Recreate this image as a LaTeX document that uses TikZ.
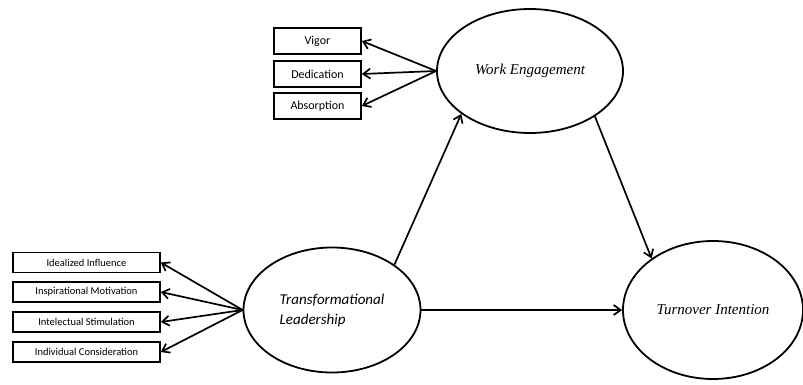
\documentclass[tikz,border=0pt]{standalone}
\usepackage{fontspec}
\setmainfont{Liberation Serif}
\newfontfamily\calfont{Carlito}
\usetikzlibrary{shapes.geometric,arrows.meta}

\begin{document}
\begin{tikzpicture}[x=1pt,y=-1pt,
  construct/.style={draw,ellipse,line width=1.8pt,inner sep=0pt},
  dimbox/.style={draw,rectangle,line width=1.6pt,inner sep=0pt,font=\calfont\fontsize{10.5}{12}\selectfont},
  link/.style={line width=1.7pt,-{Straight Barb[length=7pt,width=10pt,line width=1.7pt]}}]
\useasboundingbox (0,0) rectangle (803,385);

% latent constructs
\node[construct,minimum width=186pt,minimum height=124pt,font=\fontsize{15}{18}\selectfont\itshape] (we) at (530,71)
  {Work Engagement};
\node[construct,minimum width=177pt,minimum height=125pt,align=left,font=\calfont\fontsize{15}{20}\selectfont\itshape] (tl) at (332,310)
  {Transformational\\Leadership};
\node[construct,minimum width=180pt,minimum height=138pt,font=\fontsize{15}{18}\selectfont\itshape] (ti) at (713,310)
  {Turnover Intention};

% dimensions of work engagement
\node[dimbox,minimum width=87pt,minimum height=26pt,font=\calfont\fontsize{12}{14}\selectfont] (vig) at (317.5,41) {Vigor};
\node[dimbox,minimum width=87pt,minimum height=26pt,font=\calfont\fontsize{12}{14}\selectfont] (ded) at (317.5,74) {Dedication};
\node[dimbox,minimum width=87pt,minimum height=26pt,font=\calfont\fontsize{12}{14}\selectfont] (abs) at (317.5,106) {Absorption};

% dimensions of transformational leadership
\node[dimbox,minimum width=147pt,minimum height=20pt] (idi) at (86.5,262.5) {Idealized Influence};
\node[dimbox,minimum width=147pt,minimum height=20pt] (inm) at (86.5,292) {Inspirational Motivation};
\node[dimbox,minimum width=147pt,minimum height=20pt] (ins) at (86.5,322) {Intelectual Stimulation};
\node[dimbox,minimum width=147pt,minimum height=20pt] (inc) at (86.5,352) {Individual Consideration};

\foreach \b in {vig,ded,abs}
  \draw[link] (we.west) -- (\b.east);
\foreach \b in {idi,inm,ins,inc}
  \draw[link] (tl.west) -- (\b.east);

% structural paths
\draw[link] (tl.36) -- (we.212);
\draw[link] (we.325) -- (ti.140);
\draw[link] (tl.east) -- (ti.west);
\end{tikzpicture}
\end{document}
